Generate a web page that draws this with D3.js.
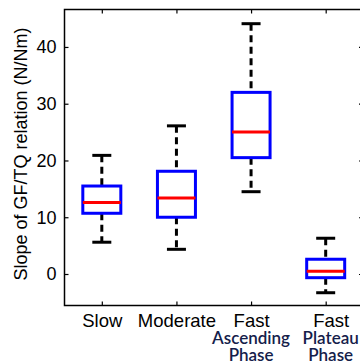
<!DOCTYPE html>
<html>
<head>
<meta charset="utf-8">
<script src="https://cdn.jsdelivr.net/npm/d3@7"></script>
<style>
  body { margin: 0; background: #fff; }
  svg { display: block; }
</style>
</head>
<body>
<svg width="360" height="363"></svg>
<script>
var categories = ["Slow", "Moderate", "Fast", "Fast"];
var subLabels = [[], [], ["Ascending", "Phase"], ["Plateau", "Phase"]];
var whiskerHigh = [20.9, 26.1, 44.1, 6.3];
var q3 = [15.5, 18.1, 32.0, 2.6];
var median = [12.6, 13.4, 25.0, 0.5];
var q1 = [10.7, 10.0, 20.5, -0.65];
var whiskerLow = [5.6, 4.35, 14.5, -3.3];
var yTicks = [0, 10, 20, 30, 40];

var svg = d3.select("svg");

var plotLeft = 64.5, plotRight = 363, plotTop = 9.5, plotBottom = 305.5;

var x = d3.scaleLinear().domain([0.5, 4.5]).range([plotLeft, plotRight]);
var y = d3.scaleLinear().domain([-5.55, 46.6]).range([plotBottom, plotTop]);

var boxes = categories.map(function(c, i) {
  return { i: i + 1, hi: whiskerHigh[i], q3: q3[i], med: median[i], q1: q1[i], lo: whiskerLow[i] };
});

// axes frame
svg.append("rect")
    .attr("x", plotLeft).attr("y", plotTop)
    .attr("width", plotRight - plotLeft).attr("height", plotBottom - plotTop)
    .attr("fill", "none").attr("stroke", "#000").attr("stroke-width", 1.5);

// left axis ticks + labels
svg.append("g")
    .attr("transform", "translate(" + plotLeft + ",0)")
    .call(d3.axisLeft(y).tickValues(yTicks).tickSize(-4).tickPadding(8).tickFormat(d3.format("d")))
    .call(function(g) {
      g.select(".domain").remove();
      g.selectAll("line").attr("stroke-width", 1.2);
      g.selectAll("text").attr("font-family", "Liberation Sans, Arial, sans-serif").attr("font-size", 18).attr("fill", "#000");
    });

// right axis ticks
svg.append("g")
    .attr("transform", "translate(" + plotRight + ",0)")
    .call(d3.axisRight(y).tickValues(yTicks).tickSize(-4).tickFormat(""))
    .call(function(g) { g.select(".domain").remove(); g.selectAll("line").attr("stroke-width", 1.2); });

// bottom ticks + labels
svg.append("g")
    .attr("transform", "translate(0," + plotBottom + ")")
    .call(d3.axisBottom(x).tickValues([1, 2, 3, 4]).tickSize(-4).tickPadding(8).tickFormat(function(d) { return categories[d - 1]; }))
    .call(function(g) {
      g.select(".domain").remove();
      g.selectAll("line").attr("stroke-width", 1.2);
      g.selectAll("text").attr("font-family", "Liberation Sans, Arial, sans-serif").attr("font-size", 18.5).attr("fill", "#000")
        .attr("dx", function(d) { return d === 4 ? 5 : 0; });
    });

// top ticks
svg.append("g")
    .attr("transform", "translate(0," + plotTop + ")")
    .call(d3.axisTop(x).tickValues([1, 2, 3, 4]).tickSize(-4).tickFormat(""))
    .call(function(g) { g.select(".domain").remove(); g.selectAll("line").attr("stroke-width", 1.2); });

// extra label lines
subLabels.forEach(function(lines, i) {
  lines.forEach(function(t, j) {
    svg.append("text")
        .attr("x", x(i + 1) + (i === 3 ? 5 : 0))
        .attr("y", 344 + j * 16.5)
        .attr("text-anchor", "middle")
        .attr("font-family", "Lato, Open Sans, sans-serif")
        .attr("font-weight", 600)
        .attr("font-size", 17)
        .attr("fill", "#14204a")
        .text(t);
  });
});

// y label
svg.append("text")
    .attr("transform", "translate(22," + 154 + ") rotate(-90)")
    .attr("text-anchor", "middle")
    .attr("dominant-baseline", "middle")
    .attr("font-family", "Liberation Sans, Arial, sans-serif")
    .attr("font-size", 18)
    .attr("fill", "#000")
    .text("Slope of GF/TQ relation (N/Nm)");

var halfBox = 19, halfCap = 9.5;

var g = svg.append("g").selectAll("g").data(boxes).enter().append("g");

// whiskers
g.append("line")
    .attr("x1", function(d) { return x(d.i); }).attr("x2", function(d) { return x(d.i); })
    .attr("y1", function(d) { return y(d.hi); }).attr("y2", function(d) { return y(d.q3); })
    .attr("stroke", "#000").attr("stroke-width", 3).attr("stroke-dasharray", "7,4.5");
g.append("line")
    .attr("x1", function(d) { return x(d.i); }).attr("x2", function(d) { return x(d.i); })
    .attr("y1", function(d) { return y(d.q1); }).attr("y2", function(d) { return y(d.lo); })
    .attr("stroke", "#000").attr("stroke-width", 3).attr("stroke-dasharray", "7,4.5");

// caps
g.append("line")
    .attr("x1", function(d) { return x(d.i) - halfCap; }).attr("x2", function(d) { return x(d.i) + halfCap; })
    .attr("y1", function(d) { return y(d.hi); }).attr("y2", function(d) { return y(d.hi); })
    .attr("stroke", "#000").attr("stroke-width", 3);
g.append("line")
    .attr("x1", function(d) { return x(d.i) - halfCap; }).attr("x2", function(d) { return x(d.i) + halfCap; })
    .attr("y1", function(d) { return y(d.lo); }).attr("y2", function(d) { return y(d.lo); })
    .attr("stroke", "#000").attr("stroke-width", 3);

// box
g.append("rect")
    .attr("x", function(d) { return x(d.i) - halfBox; })
    .attr("y", function(d) { return y(d.q3); })
    .attr("width", halfBox * 2)
    .attr("height", function(d) { return y(d.q1) - y(d.q3); })
    .attr("fill", "#fff")
    .attr("stroke", "#0000ff").attr("stroke-width", 3);

// median
g.append("line")
    .attr("x1", function(d) { return x(d.i) - halfBox; }).attr("x2", function(d) { return x(d.i) + halfBox; })
    .attr("y1", function(d) { return y(d.med); }).attr("y2", function(d) { return y(d.med); })
    .attr("stroke", "#ff0000").attr("stroke-width", 3);
</script>
</body>
</html>
